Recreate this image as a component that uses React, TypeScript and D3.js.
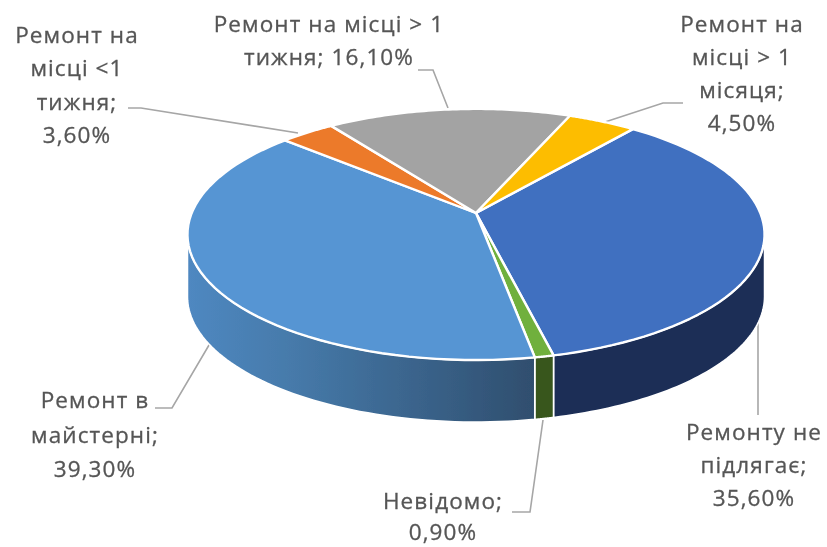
import React from "react";
import * as d3 from "d3";

const categories = ["Ремонту не підлягає", "Невідомо", "Ремонт в майстерні", "Ремонт на місці <1 тижня", "Ремонт на місці > 1 тижня", "Ремонт на місці > 1 місяця"];
const shares = [35.6, 0.9, 39.3, 3.6, 16.1, 4.5];
const topColors = ["#3f6fc0", "#6fb03c", "#5795d3", "#ec7a2b", "#a3a3a3", "#fdbd05"];
const wallColors = ["#1a2d57", "#38561f", "url(#wallBlue)", "#a04f1c", "#666666", "#a67c00"];
const labelLines = [
  ["Ремонту не", "підлягає;", "35,60%"],
  ["Невідомо;", "0,90%"],
  ["Ремонт в", "майстерні;", "39,30%"],
  ["Ремонт на", "місці <1", "тижня;", "3,60%"],
  ["Ремонт на місці > 1", "тижня; 16,10%"],
  ["Ремонт на", "місці > 1", "місяця;", "4,50%"],
];
const labelAnchors: [number, number][] = [[754, 440], [443, 509], [95, 408], [77, 43], [329, 32], [742, 32]];
const labelLineHeights = [33, 31, 34.5, 33.3, 33, 33];
const leaders: [number, number][][] = [
  [[758, 415], [758, 300]],
  [[512, 512], [530, 512], [543, 420]],
  [[155, 408], [172, 408], [212, 340]],
  [[128, 108], [141, 108], [298, 133]],
  [[418, 70], [433, 70], [448, 108]],
  [[683, 103], [663, 103], [605, 122]],
];

const cx = 476, cy = 213, R = 284.3, S = 121.9, K = 0.171, DEPTH = 62;
const START = (38.7 * Math.PI) / 180;
const WALL_A = (100 * Math.PI) / 180, WALL_B = (260 * Math.PI) / 180;

// perspective projection of a point on the unit disc (angle clockwise from the far side)
const project = (a: number, rad = 1): [number, number] => {
  const X = rad * Math.sin(a), Y = -rad * Math.cos(a), w = 1 - K * Y;
  return [cx + (R * X) / w, cy + (S * Y) / w];
};
const samples = (a0: number, a1: number) => d3.range(0, 61).map((i) => a0 + ((a1 - a0) * i) / 60);
const line = d3.line<[number, number]>();

export default function App() {
  const arcs = d3.pie<number>().sort(null).startAngle(START).endAngle(START + 2 * Math.PI)(shares);
  return (
    <svg width={827} height={547} style={{ position: "absolute", left: 0, top: 0, background: "#fff" }}>
      <defs>
        <linearGradient id="wallBlue" gradientUnits="userSpaceOnUse" x1={187} x2={535} y1={0} y2={0}>
          <stop offset="0" stopColor="#4f88c1" />
          <stop offset="0.3" stopColor="#467aaa" />
          <stop offset="1" stopColor="#2f4e6e" />
        </linearGradient>
        <filter id="soft" x="-5%" y="-5%" width="110%" height="110%">
          <feGaussianBlur stdDeviation="0.55" />
        </filter>
      </defs>
      <g filter="url(#soft)">
        {leaders.map((pts, i) => (
          <path key={i} d={line(pts) ?? ""} fill="none" stroke="#a6a6a6" strokeWidth={1.6} />
        ))}
        {arcs.map((d, i) => {
          const a0 = Math.max(((d.startAngle + 2 * Math.PI) % (2 * Math.PI)), WALL_A);
          const norm = d.startAngle >= 2 * Math.PI ? d.endAngle - 2 * Math.PI : d.endAngle;
          const a1 = Math.min(norm, WALL_B);
          if (a1 <= a0) return null;
          const front = samples(a0, a1).map((a) => project(a));
          const back = front.map(([x, y]) => [x, y + DEPTH] as [number, number]).reverse();
          return (
            <path key={categories[i]} d={(line([...front, ...back]) ?? "") + "Z"} fill={wallColors[i]} stroke="#fff" strokeWidth={1.6} strokeLinejoin="round" />
          );
        })}
        {arcs.map((d, i) => {
          const rim = samples(d.startAngle, d.endAngle).map((a) => project(a));
          return (
            <path key={categories[i]} d={(line([[cx, cy], ...rim]) ?? "") + "Z"} fill={topColors[i]} stroke="#fff" strokeWidth={2.4} strokeLinejoin="round" />
          );
        })}
        {labelLines.map((lines, i) => (
          <text key={i} textAnchor="middle" fontFamily="'Open Sans', sans-serif" fontSize={22.5} letterSpacing={1.1} fill="#555555" stroke="#555555" strokeWidth={0.3}>
            {lines.map((t, j) => (
              <tspan key={j} x={labelAnchors[i][0]} y={labelAnchors[i][1] + j * labelLineHeights[i]}>{t}</tspan>
            ))}
          </text>
        ))}
      </g>
    </svg>
  );
}
